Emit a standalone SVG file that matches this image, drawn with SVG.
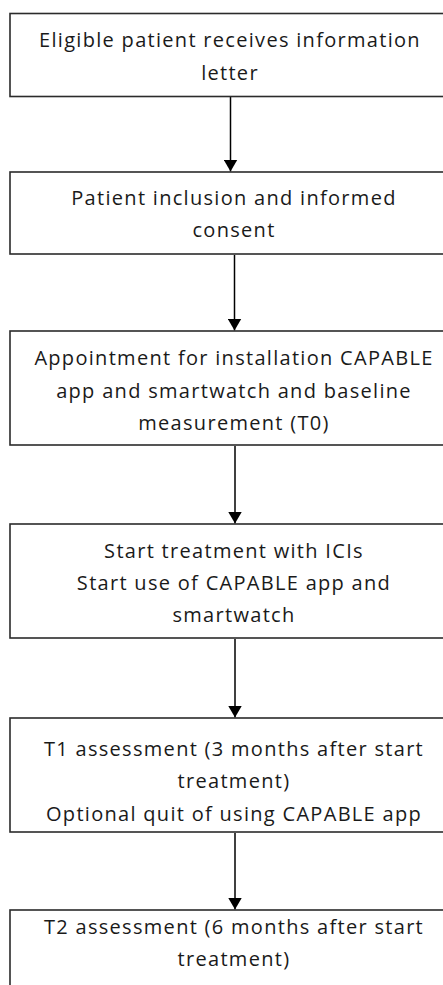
<svg xmlns="http://www.w3.org/2000/svg" width="443" height="985" viewBox="0 0 443 985">
  <defs>
    <marker id="arrow" viewBox="0 0 12 14" refX="12" refY="7" markerWidth="12" markerHeight="14" markerUnits="userSpaceOnUse" orient="auto">
      <path d="M0,0 L12,7 L0,14 Z" fill="#000"/>
    </marker>
    <style>
      .box { fill: #fff; stroke: #2b2b2b; stroke-width: 1.6; }
      .lbl { font-family: "Open Sans", "Noto Sans", "Liberation Sans", sans-serif; font-size: 20px; letter-spacing: 1.3px; fill: #1a1a1a; text-anchor: middle; }
      .edge { stroke: #000; stroke-width: 1.5; fill: none; marker-end: url(#arrow); }
    </style>
  </defs>
  <rect width="443" height="985" fill="#fff"/>

  <g id="connectors">
    <line class="edge" x1="230.5" y1="97" x2="230.5" y2="171.5"/>
    <line class="edge" x1="234.5" y1="255" x2="234.5" y2="330.5"/>
    <line class="edge" x1="235" y1="446" x2="235" y2="523.5"/>
    <line class="edge" x1="235" y1="639" x2="235" y2="717.5"/>
    <line class="edge" x1="235" y1="833" x2="235" y2="909.5"/>
  </g>

  <g id="node-information-letter">
    <rect class="box" x="10" y="13.5" width="445" height="83"/>
    <text class="lbl" x="230" y="47">Eligible patient receives information</text>
    <text class="lbl" x="230" y="80">letter</text>
  </g>

  <g id="node-inclusion">
    <rect class="box" x="10" y="172" width="445" height="82"/>
    <text class="lbl" x="234" y="204.5">Patient inclusion and informed</text>
    <text class="lbl" x="234" y="237">consent</text>
  </g>

  <g id="node-baseline">
    <rect class="box" x="10" y="331" width="445" height="114"/>
    <text class="lbl" x="234" y="365">Appointment for installation CAPABLE</text>
    <text class="lbl" x="234" y="397.5">app and smartwatch and baseline</text>
    <text class="lbl" x="234" y="430">measurement (T0)</text>
  </g>

  <g id="node-start-treatment">
    <rect class="box" x="10" y="524" width="445" height="114"/>
    <text class="lbl" x="234" y="558">Start treatment with ICIs</text>
    <text class="lbl" x="234" y="590">Start use of CAPABLE app and</text>
    <text class="lbl" x="234" y="622">smartwatch</text>
  </g>

  <g id="node-t1">
    <rect class="box" x="10" y="718" width="445" height="114"/>
    <text class="lbl" x="234" y="755.5">T1 assessment (3 months after start</text>
    <text class="lbl" x="234" y="788">treatment)</text>
    <text class="lbl" x="234" y="821">Optional quit of using CAPABLE app</text>
  </g>

  <g id="node-t2">
    <rect class="box" x="10" y="910" width="445" height="100"/>
    <text class="lbl" x="234" y="933.5">T2 assessment (6 months after start</text>
    <text class="lbl" x="234" y="966">treatment)</text>
  </g>
</svg>
